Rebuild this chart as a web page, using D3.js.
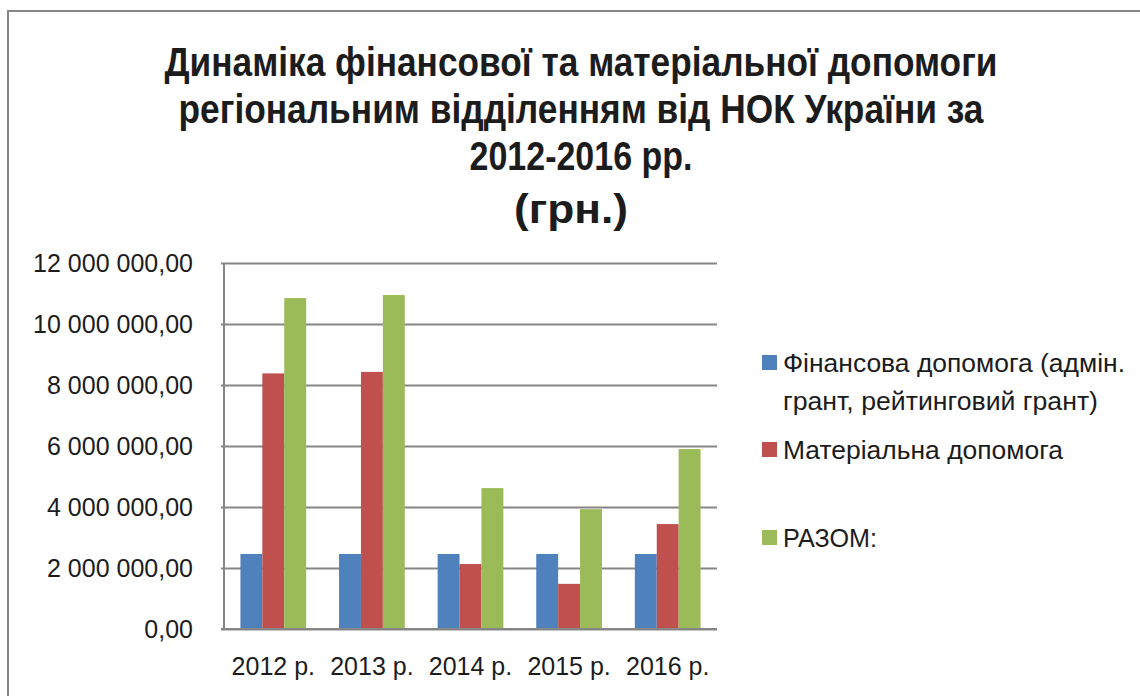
<!DOCTYPE html>
<html lang="uk">
<head>
    <meta charset="UTF-8"/>
    <title>Динаміка допомоги</title>
    <script src="https://d3js.org/d3.v7.min.js"></script>
    <style>
        body { margin: 0; background: #fff; }
        text { font-family: "Liberation Sans", Arial, sans-serif; fill: #1c1c1c; }
    </style>
</head>
<body>
    <script>
        var years = ["2012 р.", "2013 р.", "2014 р.", "2015 р.", "2016 р."];
        var seriesNames = [
            ["Фінансова допомога (адмін.", "грант, рейтинговий  грант)"],
            ["Матеріальна допомога"],
            ["РАЗОМ:"]
        ];
        var finance = [2460000, 2460000, 2460000, 2460000, 2460000];
        var material = [8380000, 8430000, 2130000, 1480000, 3440000];
        var total = [10850000, 10950000, 4620000, 3930000, 5900000];
        var yTicks = [0, 2000000, 4000000, 6000000, 8000000, 10000000, 12000000];
        var titleLines = [
            "Динаміка фінансової та матеріальної допомоги",
            "регіональним відділенням від НОК України за",
            "2012-2016 рр.",
            "(грн.)"
        ];

        var colors = ["#4F81BD", "#C0504D", "#9BBB59"];
        var series = [finance, material, total];

        var w = 1140, h = 696;
        var plotLeft = 224, plotRight = 717, plotTop = 263, plotBottom = 629;

        var svg = d3.select("body").append("svg")
            .attr("width", w)
            .attr("height", h);

        svg.append("rect").attr("width", w).attr("height", h).attr("fill", "#fff");

        // outer chart frame (right and bottom edges fall outside the picture)
        svg.append("path")
            .attr("d", "M8," + h + "V11H" + w)
            .attr("fill", "none")
            .attr("stroke", "#868686")
            .attr("stroke-width", 2);

        // title, squeezed per line to the reference widths
        var titleX = [581, 581, 581, 571];
        var titleY = [76, 123, 170, 223];
        var titleW = [833, 805, 223, 114];
        svg.selectAll(".title")
            .data(titleLines)
            .enter()
            .append("text")
            .attr("class", "title")
            .attr("x", function(d, i) { return titleX[i] - titleW[i] / 2; })
            .attr("y", function(d, i) { return titleY[i]; })
            .attr("textLength", function(d, i) { return titleW[i]; })
            .attr("lengthAdjust", "spacingAndGlyphs")
            .attr("font-size", 40)
            .attr("font-weight", "bold")
            .text(function(d) { return d; });

        var xScale = d3.scaleBand()
            .domain(years)
            .range([plotLeft, plotRight])
            .paddingInner(1 / 3)
            .paddingOuter(1 / 6);

        var xSub = d3.scaleBand()
            .domain(d3.range(series.length))
            .range([0, xScale.bandwidth()]);

        var yScale = d3.scaleLinear()
            .domain([0, 12000000])
            .range([plotBottom, plotTop]);

        var locale = d3.formatLocale({ decimal: ",", thousands: "\u00a0", grouping: [3], currency: ["", ""] });
        var fmt = locale.format(",.2f");

        // y axis with gridlines
        var yAxis = svg.append("g")
            .attr("transform", "translate(" + plotLeft + ",0)")
            .call(d3.axisLeft(yScale)
                .tickValues(yTicks)
                .tickSize(-(plotRight - plotLeft))
                .tickPadding(31)
                .tickFormat(fmt));
        yAxis.select(".domain").remove();
        yAxis.selectAll(".tick line")
            .attr("stroke", "#868686")
            .attr("stroke-width", 2)
            .attr("x1", -3);
        yAxis.selectAll(".tick text")
            .attr("font-size", 25)
            .attr("font-family", "Liberation Sans, Arial, sans-serif")
            .attr("fill", "#1c1c1c")
            .attr("dy", "0.35em");

        // bars
        series.forEach(function(s, k) {
            svg.append("g")
                .selectAll("rect")
                .data(s)
                .enter()
                .append("rect")
                .attr("x", function(d, i) { return xScale(years[i]) + xSub(k); })
                .attr("y", function(d) { return yScale(d); })
                .attr("width", xSub.bandwidth())
                .attr("height", function(d) { return plotBottom - yScale(d); })
                .attr("fill", colors[k]);
        });

        // x axis
        var xAxis = svg.append("g")
            .attr("transform", "translate(0," + plotBottom + ")")
            .call(d3.axisBottom(xScale).tickSize(0).tickPadding(28));
        xAxis.select(".domain").remove();
        xAxis.selectAll(".tick text")
            .attr("font-size", 25)
            .attr("font-family", "Liberation Sans, Arial, sans-serif")
            .attr("fill", "#1c1c1c");

        // axis lines
        svg.append("line")
            .attr("x1", plotLeft).attr("x2", plotLeft)
            .attr("y1", plotTop).attr("y2", plotBottom)
            .attr("stroke", "#868686").attr("stroke-width", 2);
        svg.append("line")
            .attr("x1", plotLeft - 3).attr("x2", plotRight)
            .attr("y1", plotBottom).attr("y2", plotBottom)
            .attr("stroke", "#868686").attr("stroke-width", 2);

        // legend
        var legendY = [363, 450, 538];
        var legendW = [[342, 315], [280], [94]];
        var legend = svg.selectAll(".legend")
            .data(seriesNames)
            .enter()
            .append("g")
            .attr("class", "legend")
            .attr("transform", function(d, i) { return "translate(762," + legendY[i] + ")"; });
        legend.append("rect")
            .attr("x", 0).attr("y", -8)
            .attr("width", 15).attr("height", 15)
            .attr("fill", function(d, i) { return colors[i]; });
        legend.each(function(lines, i) {
            var g = d3.select(this);
            lines.forEach(function(line, j) {
                g.append("text")
                    .attr("x", 21)
                    .attr("y", j * 38)
                    .attr("dy", "0.35em")
                    .attr("font-size", 25)
                    .attr("textLength", legendW[i][j])
                    .attr("lengthAdjust", "spacingAndGlyphs")
                    .text(line);
            });
        });
    </script>
</body>
</html>
